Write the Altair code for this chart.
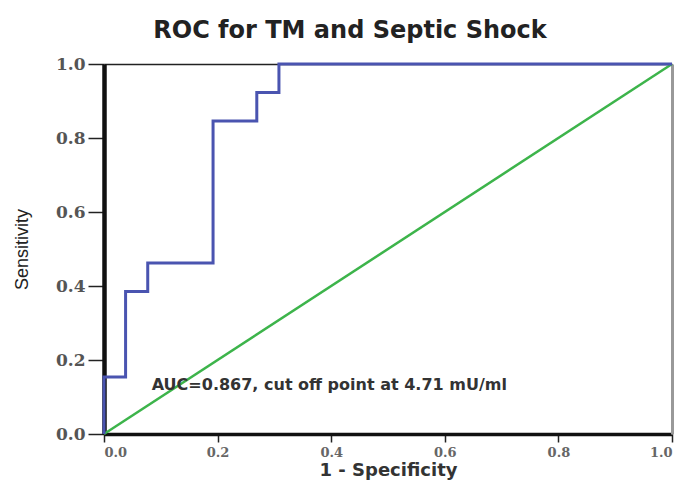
import altair as alt
import pandas as pd

# ROC step curve (1 - specificity, sensitivity)
fpr = [0.0, 0.0, 0.038, 0.038, 0.077, 0.077, 0.192, 0.192, 0.269, 0.269, 0.308, 0.308, 1.0]
tpr = [0.0, 0.154, 0.154, 0.385, 0.385, 0.462, 0.462, 0.846, 0.846, 0.923, 0.923, 1.0, 1.0]

diag_x = [0.0, 1.0]
diag_y = [0.0, 1.0]

note_text = ["AUC=0.867, cut off point at 4.71 mU/ml"]
note_x = [0.084]
note_y = [0.132]

tick_vals = [0.0, 0.2, 0.4, 0.6, 0.8, 1.0]

roc_df = pd.DataFrame({"fpr": fpr, "tpr": tpr, "order": list(range(len(fpr)))})
diag_df = pd.DataFrame({"fpr": diag_x, "tpr": diag_y})
note_df = pd.DataFrame({"fpr": note_x, "tpr": note_y, "label": note_text})

xscale = alt.Scale(domain=[0, 1], nice=False)
yscale = alt.Scale(domain=[0, 1], nice=False)

x_axis = alt.Axis(values=tick_vals, format=".1f", title="1 - Specificity",
                  grid=False, domainColor="#111", domainWidth=3.5,
                  tickColor="#222", tickSize=8, tickWidth=1.5,
                  labelFont="DejaVu Serif", labelFontSize=13, labelFontWeight="bold",
                  labelColor="#666", labelPadding=4,
                  titleFont="DejaVu Sans", titleFontSize=18, titleFontWeight="bold",
                  titleColor="#333", titleX=284, titleY=36, titleBaseline="middle")
y_axis = alt.Axis(values=tick_vals, format=".1f", title="Sensitivity",
                  grid=False, domainColor="#111", domainWidth=4.5,
                  tickColor="#222", tickSize=16, tickWidth=1.5,
                  labelFont="DejaVu Serif", labelFontSize=17, labelFontWeight="bold",
                  labelColor="#555", labelPadding=3,
                  titleFont="Liberation Sans", titleFontSize=18, titleFontWeight="normal",
                  titleColor="#222", titleX=-82, titleY=185, titleBaseline="middle",
                  titleAngle=-90)

frame = alt.Chart(diag_df).mark_point(opacity=0).encode(
    x=alt.X("fpr:Q", scale=xscale,
            axis=alt.Axis(orient="top", labels=False, ticks=False, grid=False, title=None,
                          domainColor="#222", domainWidth=1.5)),
    y=alt.Y("tpr:Q", scale=yscale,
            axis=alt.Axis(orient="right", labels=False, ticks=False, grid=False, title=None,
                          domainColor="#999", domainWidth=3)),
)

diag = alt.Chart(diag_df).mark_line(color="#3db44b", strokeWidth=2.5).encode(
    x=alt.X("fpr:Q", scale=xscale, axis=x_axis),
    y=alt.Y("tpr:Q", scale=yscale, axis=y_axis),
)

roc = alt.Chart(roc_df).mark_line(color="#4a54b0", strokeWidth=3).encode(
    x=alt.X("fpr:Q", scale=xscale),
    y=alt.Y("tpr:Q", scale=yscale),
    order="order:Q",
)

note = alt.Chart(note_df).mark_text(align="left", baseline="middle", font="DejaVu Sans",
                                     fontSize=16, fontWeight="bold", color="#333").encode(
    x=alt.X("fpr:Q", scale=xscale),
    y=alt.Y("tpr:Q", scale=yscale),
    text="label:N",
)

main = alt.layer(diag, roc, note)

chart = alt.layer(frame, main).resolve_axis(x="independent", y="independent").properties(
    width=568, height=370,
    title=alt.TitleParams("ROC for TM and Septic Shock", font="DejaVu Sans", fontSize=24,
                          fontWeight="bold", color="#222", anchor="middle", dx=-38, offset=12),
    autosize=alt.AutoSizeParams(type="none"),
    padding={"left": 104, "top": 64, "right": 14, "bottom": 52},
).configure_view(stroke=None).configure(background="white")

chart.save("out.html", embed_options={"renderer": "svg", "actions": False})
